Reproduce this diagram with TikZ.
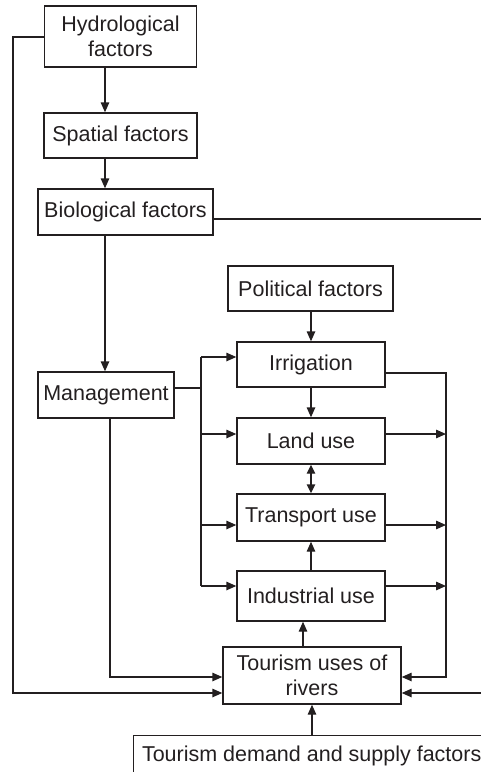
\documentclass[tikz,border=0pt]{standalone}
\usepackage{fontspec}
\setmainfont{Liberation Sans}
\usetikzlibrary{arrows.meta}
\begin{document}
\begin{tikzpicture}[x=1pt,y=-1pt,
  line width=1.4pt, draw={rgb,255:red,35;green,31;blue,32},
  box/.style={draw, rectangle, inner sep=0pt, align=center,
    font=\fontsize{21.5}{25}\selectfont, text={rgb,255:red,35;green,31;blue,32}},
  arr/.style={-{Triangle[length=10pt,width=8.5pt]}},
  darr/.style={{Triangle[length=9pt,width=8.5pt]}-{Triangle[length=9pt,width=8.5pt]}}]
\useasboundingbox (0,0) rectangle (481,772);
\clip (0,0) rectangle (481,772);
% boxes
\node[box, minimum width=152pt, minimum height=61pt] (hydro) at (120.5,36.5) {Hydrological\\factors};
\node[box, minimum width=153pt, minimum height=45pt] (spatial) at (120.5,135.5) {Spatial factors};
\node[box, minimum width=175pt, minimum height=46pt] (bio) at (125.5,212) {Biological factors};
\node[box, minimum width=136pt, minimum height=46pt] (mgmt) at (106,395) {Management};
\node[box, minimum width=165pt, minimum height=45pt] (pol) at (310.5,288.5) {Political factors};
\node[box, minimum width=148pt, minimum height=45pt] (irr) at (311,364.5) {Irrigation};
\node[box, minimum width=148pt, minimum height=46pt] (land) at (311,441) {Land use};
\node[box, minimum width=148pt, minimum height=47pt] (trans) at (311,517.5) {Transport use};
\node[box, minimum width=148pt, minimum height=50pt] (ind) at (311,596) {Industrial use};
\node[box, minimum width=178pt, minimum height=57pt] (tour) at (312,675.5) {Tourism uses of\\rivers};
\node[box, minimum width=356pt, minimum height=40pt, anchor=north west] (dem) at (133,735) {Tourism demand and supply factors};
% helper coordinates
\coordinate (xa) at (105,0);
\coordinate (xl) at (13,0);
\coordinate (xm) at (110,0);
\coordinate (xb) at (201,0);
\coordinate (xr) at (446,0);
\coordinate (xc) at (311,0);
\coordinate (xt) at (303,0);
\coordinate (xd) at (312,0);
\coordinate (xe) at (495,0);
\coordinate (y37) at (0,37);
\coordinate (y219) at (0,219);
\coordinate (y388) at (0,388);
\coordinate (y357) at (0,357);
\coordinate (y373) at (0,373);
\coordinate (y434) at (0,434);
\coordinate (y525) at (0,525);
\coordinate (y586) at (0,586);
\coordinate (y677) at (0,677);
\coordinate (y693) at (0,693);
% left chain
\draw[arr] (hydro.south -| xa) -- (spatial.north -| xa);
\draw[arr] (spatial.south -| xa) -- (bio.north -| xa);
\draw[arr] (bio.south -| xa) -- (mgmt.north -| xa);
% hydro to tourism
\draw[arr] (hydro.west |- y37) -| (xl |- y693) -- (tour.west |- y693);
% management to tourism
\draw[arr] (mgmt.south -| xm) |- (tour.west |- y677);
% biological to tourism (around the right)
\draw[arr] (bio.east |- y219) -- (xe |- y219) -- (xe |- y693) -- (tour.east |- y693);
% management bus
\draw (mgmt.east |- y388) -- (xb |- y388);
\draw (xb |- y357) -- (xb |- y586);
\draw[arr] (xb |- y357) -- (irr.west |- y357);
\draw[arr] (xb |- y434) -- (land.west |- y434);
\draw[arr] (xb |- y525) -- (trans.west |- y525);
\draw[arr] (xb |- y586) -- (ind.west |- y586);
% right bus
\draw[arr] (irr.east |- y373) -| (xr |- y677) -- (tour.east |- y677);
\draw[arr] (land.east |- y434) -- (xr |- y434);
\draw[arr] (trans.east |- y525) -- (xr |- y525);
\draw[arr] (ind.east |- y586) -- (xr |- y586);
% central column
\draw[arr] (pol.south -| xc) -- (irr.north -| xc);
\draw[arr] (irr.south -| xc) -- (land.north -| xc);
\draw[darr] (land.south -| xc) -- (trans.north -| xc);
\draw[arr] (ind.north -| xc) -- (trans.south -| xc);
\draw[arr] (tour.north -| xt) -- (ind.south -| xt);
\draw[arr] (dem.north -| xd) -- (tour.south -| xd);
\end{tikzpicture}
\end{document}
